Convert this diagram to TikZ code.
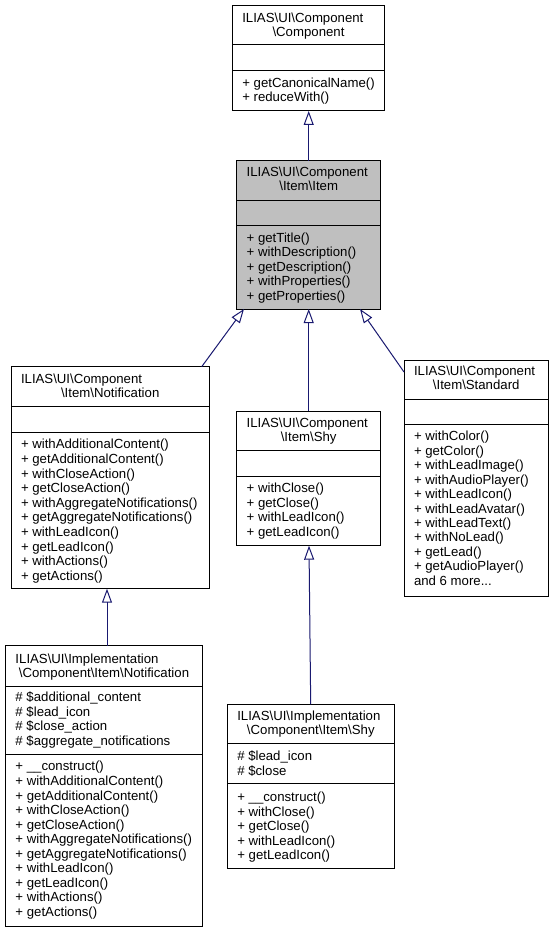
\documentclass[tikz,border=0pt]{standalone}
\usepackage{fontspec}
\setmainfont{Liberation Sans}
\usetikzlibrary{arrows.meta}
\definecolor{edgecol}{HTML}{191970}
\definecolor{itemgray}{HTML}{BFBFBF}
\newcommand\bs{\textbackslash}
\tikzset{
  cls/.style={draw=black, line width=1pt, inner sep=0pt, outer sep=0pt, anchor=north west},
  txt/.style={anchor=base west, inner sep=0pt, outer sep=0pt},
  ctr/.style={anchor=base, inner sep=0pt, outer sep=0pt},
  sepl/.style={draw=black, line width=1pt},
  inherit/.style={draw=edgecol, line width=1pt, -{Triangle[open,length=14pt,width=10pt]}}
}
% name, x, first baseline, pitch, list
\newcommand\textlines[5]{%
  \foreach \t [count=\i] in {#5} \node[txt] (#1\i) at (#2,{#3+#4*(\i-1)}) {\t};}
% box name, offset below top
\newcommand\sepat[2]{\draw[sepl] ([yshift=-#2]#1.north west) -- ([yshift=-#2]#1.north east);}
\begin{document}
\begin{tikzpicture}[x=1pt,y=-1pt,font=\fontsize{13.2}{14.5}\selectfont]
\useasboundingbox[fill=white] (0,0) rectangle (554,933);

% ---------- Component
\node[cls, minimum width=152.4pt, minimum height=105.3pt] (comp) at (232.3,5.7) {};
\node[txt] (compT1) at (242.3,22.5) {ILIAS\bs UI\bs Component};
\node[ctr] (compT2) at (308.5,36.9) {\bs Component};
\sepat{comp}{39.3pt}
\sepat{comp}{65pt}
\textlines{compM}{242.3}{87.2}{14.5}{{+ getCanonicalName()},{+ reduceWith()}}

% ---------- Item
\node[cls, fill=itemgray, minimum width=144pt, minimum height=148.3pt] (item) at (236.7,160.7) {};
\node[txt] (itemT1) at (246.7,176.7) {ILIAS\bs UI\bs Component};
\node[ctr] (itemT2) at (308.7,190.7) {\bs Item\bs Item};
\sepat{item}{40pt}
\sepat{item}{65.3pt}
\textlines{itemM}{246.7}{242.2}{14.5}{{+ getTitle()},{+ withDescription()},{+ getDescription()},{+ withProperties()},{+ getProperties()}}

% ---------- Notification (interface)
\node[cls, minimum width=198.3pt, minimum height=222pt] (notif) at (11,366.7) {};
\node[txt] (notifT1) at (21,383.2) {ILIAS\bs UI\bs Component};
\node[ctr] (notifT2) at (110.2,397.2) {\bs Item\bs Notification};
\sepat{notif}{40pt}
\sepat{notif}{65.3pt}
\textlines{notifM}{21}{448.9}{14.59}{{+ withAdditionalContent()},{+ getAdditionalContent()},{+ withCloseAction()},{+ getCloseAction()},{+ withAggregateNotifications()},{+ getAggregateNotifications()},{+ withLeadIcon()},{+ getLeadIcon()},{+ withActions()},{+ getActions()}}

% ---------- Shy (interface)
\node[cls, minimum width=144pt, minimum height=134.7pt] (shy) at (236.7,411) {};
\node[txt] (shyT1) at (246.7,427.7) {ILIAS\bs UI\bs Component};
\node[ctr] (shyT2) at (308.7,441.7) {\bs Item\bs Shy};
\sepat{shy}{39.7pt}
\sepat{shy}{65pt}
\textlines{shyM}{246.7}{492.7}{14.5}{{+ withClose()},{+ getClose()},{+ withLeadIcon()},{+ getLeadIcon()}}

% ---------- Standard
\node[cls, minimum width=144.3pt, minimum height=236pt] (std) at (404,360) {};
\node[txt] (stdT1) at (414,375.2) {ILIAS\bs UI\bs Component};
\node[ctr] (stdT2) at (476.2,389.2) {\bs Item\bs Standard};
\sepat{std}{39pt}
\sepat{std}{64pt}
\textlines{stdM}{414}{440.9}{14.43}{{+ withColor()},{+ getColor()},{+ withLeadImage()},{+ withAudioPlayer()},{+ withLeadIcon()},{+ withLeadAvatar()},{+ withLeadText()},{+ withNoLead()},{+ getLead()},{+ getAudioPlayer()}}
\node[txt] (stdMore) at (414,{440.9+14.43*10}) {and 6 more...};

% ---------- Implementation Notification
\node[cls, minimum width=197pt, minimum height=281pt] (inotif) at (5.5,645.7) {};
\node[txt] (inotifT1) at (15.5,663.5) {ILIAS\bs UI\bs Implementation};
\node[ctr] (inotifT2) at (104,677.5) {\bs Component\bs Item\bs Notification};
\sepat{inotif}{41pt}
\sepat{inotif}{108.6pt}
\textlines{inotifA}{15.5}{701.5}{14.6}{{\# \$additional\_content},{\# \$lead\_icon},{\# \$close\_action},{\# \$aggregate\_notifications}}
\textlines{inotifM}{15.5}{770.9}{14.56}{{+ \_\_construct()},{+ withAdditionalContent()},{+ getAdditionalContent()},{+ withCloseAction()},{+ getCloseAction()},{+ withAggregateNotifications()},{+ getAggregateNotifications()},{+ withLeadIcon()},{+ getLeadIcon()},{+ withActions()},{+ getActions()}}

% ---------- Implementation Shy
\node[cls, minimum width=167pt, minimum height=164pt] (ishy) at (227.3,704.3) {};
\node[txt] (ishyT1) at (237.3,720.7) {ILIAS\bs UI\bs Implementation};
\node[ctr] (ishyT2) at (310.8,734.7) {\bs Component\bs Item\bs Shy};
\sepat{ishy}{39pt}
\sepat{ishy}{79pt}
\textlines{ishyA}{237.3}{760.9}{14.5}{{\# \$lead\_icon},{\# \$close}}
\textlines{ishyM}{237.3}{801.5}{14.5}{{+ \_\_construct()},{+ withClose()},{+ getClose()},{+ withLeadIcon()},{+ getLeadIcon()}}

% ---------- Inheritance connectors
\coordinate (notifTop) at ([xshift=-7.6]notif.north east);
\coordinate (itemBL) at ([xshift=7.3]item.south west);
\coordinate (stdLeft) at ([yshift=-12]std.north west);
\coordinate (itemBR) at ([xshift=-20.7]item.south east);
\coordinate (inotifTop) at ([xshift=101.5]inotif.north west);
\coordinate (ishyTop) at ([xshift=83.4]ishy.north west);
\coordinate (shyBot) at ([xshift=72.3]shy.south west);

\draw[inherit] (item.north) -- (item.north |- comp.south);
\draw[inherit] (notifTop) -- (itemBL);
\draw[inherit] (shy.north) -- (shy.north |- item.south);
\draw[inherit] (stdLeft) -- (itemBR);
\draw[inherit] (inotifTop) -- (inotifTop |- notif.south);
\draw[inherit] (ishyTop) -- (shyBot);
\end{tikzpicture}
\end{document}
